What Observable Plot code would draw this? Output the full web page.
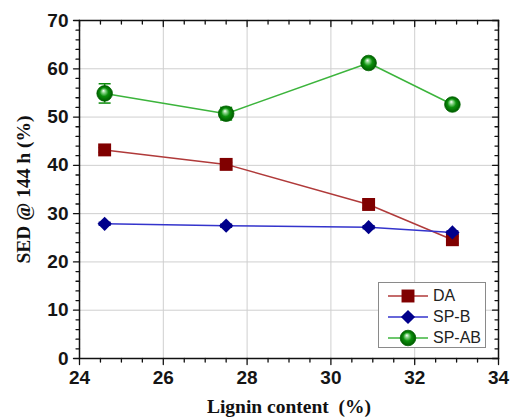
<!DOCTYPE html>
<html><head><meta charset="utf-8">
<script src="https://cdn.jsdelivr.net/npm/d3@7"></script>
<script src="https://cdn.jsdelivr.net/npm/@observablehq/plot@0.6"></script>
<style>
body{margin:0;background:#fff;}
#wrap{position:relative;width:514px;height:419px;}
g[aria-label="x-axis tick label"], g[aria-label="y-axis tick label"]{font-family:"Liberation Sans",Arial,sans-serif;font-weight:bold;font-size:19px;fill:#151515}
g[aria-label="x-axis label"], g[aria-label="y-axis label"]{font-family:"Liberation Serif","Times New Roman",serif;font-weight:bold;font-size:19.5px;fill:#111}
#legend{position:absolute;left:378px;top:282px;width:108px;height:66px;border:1px solid #8a8a8a;background:#fff;box-sizing:border-box;font-family:"Liberation Sans",Arial,sans-serif;font-size:16px;color:#222}
.row{display:flex;align-items:center;height:21px;}
.row:first-child{margin-top:2px}
.row svg{margin-left:8px;margin-right:4px}
</style>
</head><body>
<div id="wrap"><div id="chart"></div><div id="legend"></div></div>
<script>
// ---- data ----
const lignin = [24.6, 27.5, 30.9, 32.9];
const seriesNames = ["DA", "SP-B", "SP-AB"];
const daValues = [43.2, 40.2, 31.9, 24.6];
const daErrors = [0.5, 0.4, 0.8, 0.7];
const spbValues = [27.9, 27.5, 27.2, 26.1];
const spbErrors = [0.3, 0.3, 0.3, 0.3];
const spabValues = [54.9, 50.7, 61.2, 52.6];
const spabErrors = [2.0, 1.3, 0.6, 0.5];
const xMajorTicks = [24, 26, 28, 30, 32, 34];
const yMajorTicks = [0, 10, 20, 30, 40, 50, 60, 70];
const xGridTicks = [26, 28, 30, 32];
const yGridTicks = [10, 20, 30, 40, 50, 60];

// styles
const styles = {
  "DA":    {line: "#b03a3a", fill: "#800000", symbol: d3.symbolSquare, r: 7.3},
  "SP-B":  {line: "#3434cc", fill: "#00008b", symbol: d3.symbolDiamond2, r: 6.4},
  "SP-AB": {line: "#3cb43c", fill: "url(#sphere)", symbol: d3.symbolCircle, r: 7.8}
};

const valueSets = {"DA": daValues, "SP-B": spbValues, "SP-AB": spabValues};
const errorSets = {"DA": daErrors, "SP-B": spbErrors, "SP-AB": spabErrors};
const rows = seriesNames.flatMap(s => lignin.map((x, i) => ({series: s, x, y: valueSets[s][i], e: errorSets[s][i]})));

const xMinorTicks = d3.range(24, 34.001, 0.5).filter(v => !xMajorTicks.includes(v));
const yMinorTicks = d3.range(0, 70.001, 2).filter(v => !yMajorTicks.includes(v));

const capSymbol = {draw(ctx, size) { ctx.moveTo(-6, 0); ctx.lineTo(6, 0); }};
const tickShape = {draw(ctx, l) { ctx.moveTo(0, 0); ctx.lineTo(0, -l); }};

function sphereDefs() {
  const defs = d3.create("svg:defs");
  const g = defs.append("radialGradient").attr("id", "sphere")
    .attr("cx", "50%").attr("cy", "50%").attr("r", "50%").attr("fx", "42%").attr("fy", "32%");
  g.append("stop").attr("offset", "0%").attr("stop-color", "#ffffff");
  g.append("stop").attr("offset", "22%").attr("stop-color", "#8fd88f");
  g.append("stop").attr("offset", "55%").attr("stop-color", "#0b900b");
  g.append("stop").attr("offset", "100%").attr("stop-color", "#005a00");
  return defs.node();
}

function edgeTicks(values, axis, frameAnchor, rotate, length) {
  const o = {frameAnchor, rotate, length, anchor: "start", shape: tickShape, stroke: "#111", strokeWidth: 1.3};
  if (axis === "x") o.x = d => d; else o.y = d => d;
  return Plot.vector(values, o);
}

const marks = [sphereDefs,
  Plot.gridX(xGridTicks, {stroke: "#cfcfcf", strokeOpacity: 1, strokeWidth: 1}),
  Plot.gridY(yGridTicks, {stroke: "#cfcfcf", strokeOpacity: 1, strokeWidth: 1}),
  Plot.axisX({ticks: xMajorTicks, tickSize: 0, tickPadding: 12, label: "Lignin content\u00a0 (%)", labelAnchor: "center", labelArrow: "none", labelOffset: 54}),
  Plot.axisY({ticks: yMajorTicks, tickSize: 0, tickPadding: 11, label: "SED @ 144 h (%)", labelAnchor: "center", labelArrow: "none", labelOffset: 63}),
  // outward ticks on bottom/left, inward on top/right
  edgeTicks(xMajorTicks, "x", "bottom", 180, 6),
  edgeTicks(xMinorTicks, "x", "bottom", 180, 3.5),
  edgeTicks(xMajorTicks, "x", "top", 180, 6),
  edgeTicks(xMinorTicks, "x", "top", 180, 3.5),
  edgeTicks(yMajorTicks, "y", "left", 270, 6),
  edgeTicks(yMinorTicks, "y", "left", 270, 3.5),
  edgeTicks(yMajorTicks, "y", "right", 270, 6),
  edgeTicks(yMinorTicks, "y", "right", 270, 3.5),
];

for (const s of seriesNames) {
  const st = styles[s];
  const data = rows.filter(d => d.series === s);
  const barColor = s === "SP-AB" ? "#0a8a0a" : st.fill;
  marks.push(Plot.line(data, {x: "x", y: "y", stroke: st.line, strokeWidth: 1.5}));
  marks.push(Plot.ruleX(data, {x: "x", y1: d => d.y - d.e, y2: d => d.y + d.e, stroke: barColor, strokeWidth: 1.5}));
  marks.push(Plot.dot(data, {x: "x", y: d => d.y - d.e, symbol: capSymbol, stroke: barColor, strokeWidth: 1.5}));
  marks.push(Plot.dot(data, {x: "x", y: d => d.y + d.e, symbol: capSymbol, stroke: barColor, strokeWidth: 1.5}));
  marks.push(Plot.dot(data, {x: "x", y: "y", symbol: st.symbol, r: st.r, fill: st.fill, stroke: s === "SP-AB" ? "#006400" : "none", strokeWidth: 0.8}));
}
marks.push(Plot.frame({stroke: "#111", strokeWidth: 1.5}));

const chart = Plot.plot({
  width: 514, height: 419,
  marginLeft: 79, marginRight: 16, marginTop: 20, marginBottom: 61,
  x: {domain: [24, 34]},
  y: {domain: [0, 70]},
  style: {background: "#fff", overflow: "visible"},
  marks
});
document.getElementById("chart").append(chart);

// legend
const legend = d3.select("#legend");
for (const s of seriesNames) {
  const st = styles[s];
  const row = legend.append("div").attr("class", "row");
  const svg = row.append("svg").attr("width", 42).attr("height", 20);
  if (s === "SP-AB") {
    const defs = svg.append("defs");
    const g = defs.append("radialGradient").attr("id", "sphereL").attr("fx", "42%").attr("fy", "32%");
    [["0%", "#ffffff"], ["22%", "#8fd88f"], ["55%", "#0b900b"], ["100%", "#005a00"]].forEach(([o, c]) => g.append("stop").attr("offset", o).attr("stop-color", c));
  }
  svg.append("line").attr("x1", 1).attr("x2", 41).attr("y1", 10).attr("y2", 10).attr("stroke", st.line).attr("stroke-width", 1.5);
  svg.append("path").attr("transform", "translate(21,10)")
    .attr("d", d3.symbol(st.symbol, st.r * st.r * Math.PI)())
    .attr("fill", s === "SP-AB" ? "url(#sphereL)" : st.fill)
    .attr("stroke", s === "SP-AB" ? "#006400" : "none").attr("stroke-width", 0.8);
  row.append("span").text(s);
}
</script>
</body></html>
